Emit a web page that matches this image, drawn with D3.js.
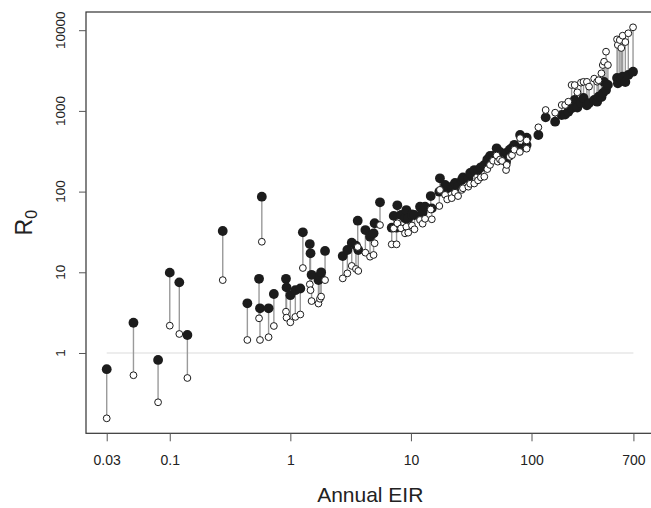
<!DOCTYPE html>
<html>
<head>
<meta charset="utf-8">
<script src="https://cdn.jsdelivr.net/npm/d3@7"></script>
<style>
  body { margin: 0; background: #fff; }
  svg { display: block; font-family: "Liberation Sans", Arial, sans-serif; }
</style>
</head>
<body>
<script>
// annual EIR for each site
var eir = [0.03, 0.05, 0.08, 0.10, 0.12, 0.14, 0.275, 0.44, 0.55, 0.56, 0.58, 0.66, 0.73, 0.92, 0.93,
  1.0, 1.1, 1.21, 1.27, 1.45, 1.47, 1.5, 1.71, 1.76, 1.8, 1.94, 2.72, 2.97, 3.23, 3.5, 3.62, 3.66,
  4.19, 4.58, 4.9, 5.0, 5.54, 6.93, 7.2, 7.6, 7.71, 8.28, 8.93, 9.16, 9.5, 10.2, 10.7, 11.9, 12.5, 13.1, 14.6, 14.9,
  17.2, 17.4, 19.2, 20, 21.8, 23.2, 24.6, 26.4, 27, 29.9, 31, 33.5, 36, 38, 40.6, 43, 45.3, 48, 51.4, 52.5, 54.8, 57,
  61.5, 62.3, 66, 68.9, 72, 80.4, 80, 91.2, 91, 114, 131, 157, 178, 190, 202, 215, 228, 240, 257, 270, 288, 300, 331, 350,
  360, 380, 390, 400, 415, 430, 512, 520, 540, 555, 570, 600, 635, 695];
// R0 (filled circles)
var r0Filled = [0.63, 2.37, 0.82, 9.9, 7.5, 1.67, 32.5, 4.13, 8.3, 3.58, 86.5, 3.58, 5.38, 8.3, 6.5,
  5.2, 6.0, 6.3, 31.3, 22.4, 17.2, 9.3, 8.0, 9.0, 10.0, 18.4, 15.9, 18.9, 23.3, 21.4, 43.6, 18.9,
  33.4, 27.6, 30.4, 40.5, 73.7, 35.7, 50, 35.7, 67.6, 51.3, 46.7, 59, 46.7, 52, 51.3, 65, 55, 65, 88, 62,
  99.7, 146, 121, 110, 115, 128, 115, 139, 150, 146, 170, 185, 185, 200, 214, 250, 276, 276, 344, 276, 310, 290,
  235, 303, 330, 347, 380, 503, 344, 465, 378, 503, 832, 735, 889, 900, 977, 1077, 1365, 1100, 1260, 1445, 1175, 1250, 1365, 1300,
  1500, 1480, 1660, 2280, 1810, 2100, 2560, 2200, 2400, 2480, 2650, 2280, 2790, 3060];
// R0 (open circles)
var r0Open = [0.155, 0.53, 0.245, 2.18, 1.72, 0.49, 8.0, 1.45, 2.69, 1.45, 23.9, 1.57, 2.16, 3.25, 2.74,
  2.4, 2.8, 3.0, 11.3, 7.1, 6.0, 4.4, 4.1, 4.7, 5.0, 8.0, 8.4, 9.7, 12.0, 11.0, 20.6, 10.4,
  17.5, 15.6, 16.4, 22.9, 38.5, 22.2, 35, 22.2, 40.5, 35, 30.4, 36.7, 31, 38, 34.1, 44.5, 40, 46, 60, 45.4,
  66.3, 105, 91, 80, 83, 97, 88, 105, 110, 115, 125, 126, 138, 150, 153, 190, 214, 241, 280, 235, 250, 240,
  185, 214, 270, 283, 330, 460, 310, 430, 340, 626, 1026, 950, 1183, 1183, 1300, 2094, 2090, 1700, 2240, 2290, 2290, 2000, 2510, 2300,
  2400, 2920, 3700, 4070, 5420, 3700, 7700, 6550, 7550, 6020, 8550, 7130, 9160, 10860];

var xTicks = [0.03, 0.1, 1, 10, 100, 700];
var yTicks = [1, 10, 100, 1000, 10000];

var width = 651, height = 508;
var plot = { left: 86, right: 654.5, top: 12, bottom: 433.3 };

var svg = d3.select('body').append('svg').attr('width', width).attr('height', height);

var x = d3.scaleLog().domain([0.0202, 1047]).range([plot.left, plot.right]);
var y = d3.scaleLog().domain([0.1011, 16810]).range([plot.bottom, plot.top]);

var pts = eir.map(function (d, i) {
  return { eir: d, f: r0Filled[i], o: r0Open[i] };
});

// reference line R0 = 1
svg.append('line')
  .attr('x1', x(0.03)).attr('x2', x(700))
  .attr('y1', y(1)).attr('y2', y(1))
  .attr('stroke', '#dcdcdc').attr('stroke-width', 1.2);

// connecting segments
svg.append('g').selectAll('line').data(pts).enter().append('line')
  .attr('x1', function (d) { return x(d.eir); })
  .attr('x2', function (d) { return x(d.eir); })
  .attr('y1', function (d) { return y(d.f); })
  .attr('y2', function (d) { return y(d.o); })
  .attr('stroke', '#9a9a9a').attr('stroke-width', 1.4);

svg.append('g').selectAll('circle').data(pts).enter().append('circle')
  .attr('cx', function (d) { return x(d.eir); })
  .attr('cy', function (d) { return y(d.f); })
  .attr('r', 4.9)
  .attr('fill', '#1c1c1c');

svg.append('g').selectAll('circle').data(pts).enter().append('circle')
  .attr('cx', function (d) { return x(d.eir); })
  .attr('cy', function (d) { return y(d.o); })
  .attr('r', 3.4)
  .attr('fill', '#fff')
  .attr('stroke', '#1c1c1c').attr('stroke-width', 1);

// box
svg.append('rect')
  .attr('x', plot.left).attr('y', plot.top)
  .attr('width', plot.right - plot.left).attr('height', plot.bottom - plot.top)
  .attr('fill', 'none').attr('stroke', '#333').attr('stroke-width', 1.2);

// x axis
var xAxis = d3.axisBottom(x).tickValues(xTicks).tickSize(8).tickPadding(14)
  .tickFormat(function (d) { return String(d); });
var gx = svg.append('g').attr('transform', 'translate(0,' + plot.bottom + ')').call(xAxis);
gx.select('.domain').remove();
gx.selectAll('line').attr('stroke', '#555');
gx.selectAll('text').attr('font-size', 14).attr('fill', '#222')
  .attr('font-family', '"Liberation Sans", Arial, sans-serif');

// y axis
var yAxis = d3.axisLeft(y).tickValues(yTicks).tickSize(7).tickFormat('');
var gy = svg.append('g').attr('transform', 'translate(' + plot.left + ',0)').call(yAxis);
gy.select('.domain').remove();
gy.selectAll('line').attr('stroke', '#555');

svg.append('g').selectAll('text').data(yTicks).enter().append('text')
  .attr('transform', function (d) { return 'translate(65,' + y(d) + ') rotate(-90)'; })
  .attr('text-anchor', 'middle')
  .attr('font-size', 13.5).attr('fill', '#222')
  .text(function (d) { return String(d); });

// titles
svg.append('text')
  .attr('x', (plot.left + plot.right) / 2).attr('y', 502)
  .attr('text-anchor', 'middle').attr('font-size', 21).attr('fill', '#222')
  .text('Annual EIR');

var yt = svg.append('text')
  .attr('transform', 'translate(32,' + (plot.top + plot.bottom) / 2 + ') rotate(-90)')
  .attr('text-anchor', 'middle').attr('font-size', 23).attr('fill', '#222');
yt.append('tspan').text('R');
yt.append('tspan').attr('font-size', 16).attr('dy', 5).text('0');
</script>
</body>
</html>
